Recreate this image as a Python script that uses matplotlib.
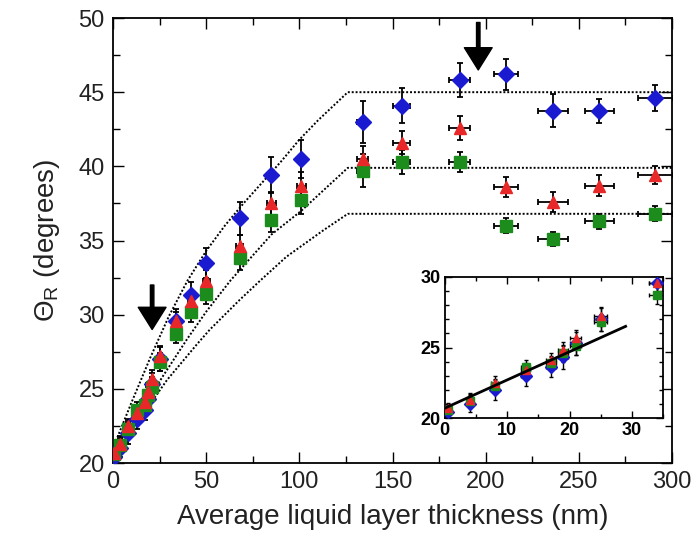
import matplotlib
matplotlib.use("Agg")
import matplotlib.pyplot as plt
from matplotlib.ticker import MultipleLocator

plt.rcParams["font.family"] = ["Liberation Sans", "DejaVu Sans"]
plt.rcParams["mathtext.fontset"] = "custom"
plt.rcParams["mathtext.rm"] = "Liberation Sans"
plt.rcParams["mathtext.it"] = "Liberation Sans"

# thickness (nm) and horizontal errors
thickness = [0.5, 4, 8, 13, 17, 19, 21, 25, 34, 42, 50, 68, 85, 101, 134, 155, 186, 211, 236, 261, 291]
thickness_err = [0.4, 0.5, 0.6, 0.7, 0.8, 0.8, 0.9, 1.0, 1.2, 1.5, 1.8, 2.0, 2.2, 2.5, 3.0, 4.5, 5.8, 6.5, 7.9, 7.9, 9.4]

# receding angle (degrees), three series
blue_vals = [20.4, 21.0, 22.0, 23.0, 23.6, 24.3, 25.3, 27.0, 29.6, 31.3, 33.5, 36.5, 39.4, 40.5,
             43.0, 44.1, 45.8, 46.2, 43.75, 43.75, 44.6]
blue_err = [0.5, 0.6, 0.7, 0.7, 0.7, 0.8, 0.8, 0.8, 0.8, 0.9, 1.0, 1.1, 1.2, 1.3,
            1.4, 1.2, 1.15, 1.07, 1.1, 0.8, 0.9]
red_vals = [20.7, 21.3, 22.5, 23.4, 24.1, 24.8, 25.65, 27.2, 29.55, 30.9, 32.3, 34.6, 37.5, 38.7,
            40.5, 41.6, 42.6, 38.6, 37.6, 38.7, 39.4]
red_err = [0.4, 0.5, 0.5, 0.5, 0.5, 0.6, 0.6, 0.7, 0.6, 0.7, 0.7, 0.8, 0.8, 0.9,
           0.9, 0.8, 0.8, 0.7, 0.7, 0.7, 0.6]
green_vals = [20.6, 21.2, 22.3, 23.6, 23.9, 24.6, 25.1, 26.8, 28.7, 30.2, 31.4, 33.8, 36.4, 37.7,
              39.7, 40.3, 40.3, 36.0, 35.1, 36.3, 36.8]
green_err = [0.4, 0.5, 0.5, 0.5, 0.5, 0.6, 0.6, 0.6, 0.6, 0.7, 0.7, 0.8, 0.8, 0.9,
             1.1, 0.8, 0.7, 0.5, 0.5, 0.5, 0.5]

# dotted envelope curves
upper_x = [0, 10, 20, 30, 40, 50, 60, 70, 80, 90, 100, 110, 126, 300]
upper_y = [21.0, 24.1, 27.1, 29.9, 32.3, 34.3, 36.0, 37.5, 38.9, 40.3, 41.8, 43.1, 45.0, 45.0]
middle_x = [0, 15, 27, 40, 50, 63, 85, 101, 126, 300]
middle_y = [20.8, 23.5, 25.9, 28.4, 30.2, 32.3, 35.4, 37.0, 39.9, 39.9]
lower_x = [0, 15, 29, 45, 52, 68, 79, 93, 113, 126, 300]
lower_y = [20.6, 23.1, 25.6, 28.0, 29.0, 31.0, 32.3, 33.9, 35.7, 36.8, 36.8]

# linear fit in the inset
fit_x = [0, 29]
fit_y = [20.7, 26.5]

# arrow positions (nm, degrees): tip and tail
arrow_left = (21, 29.0, 32.0)
arrow_right = (196, 46.5, 49.7)

BLUE = "#1a1ad0"
RED = "#e82828"
GREEN = "#1c8c1c"


def draw_series(ax, ms, cap, elw):
    for vals, err, color, marker in [
        (blue_vals, blue_err, BLUE, "D"),
        (green_vals, green_err, GREEN, "s"),
        (red_vals, red_err, RED, "^"),
    ]:
        ax.errorbar(thickness, vals, yerr=err, xerr=thickness_err, fmt=marker,
                    color=color, markersize=ms, markeredgecolor=color,
                    ecolor="black", elinewidth=elw, capsize=cap, capthick=elw, zorder=3)


def style_ticks(ax, major_len, minor_len):
    ax.tick_params(which="both", direction="in", top=True, right=True, width=1.0)
    ax.tick_params(which="major", length=major_len)
    ax.tick_params(which="minor", length=minor_len)


fig = plt.figure(figsize=(6.95, 5.46), dpi=100)
ax = fig.add_axes([0.1626, 0.152, 0.8044, 0.815])

for xs, ys in [(upper_x, upper_y), (middle_x, middle_y), (lower_x, lower_y)]:
    ax.plot(xs, ys, color="black", linestyle=(0, (1, 1)), linewidth=1.4, zorder=2)

draw_series(ax, 8, 2.5, 1.3)

for x, tip, tail in [arrow_left, arrow_right]:
    ax.annotate("", xy=(x, tip), xytext=(x, tail),
                arrowprops=dict(facecolor="black", edgecolor="black", width=2.5,
                                headwidth=20, headlength=16, shrink=0), zorder=5)

ax.set_xlim(0, 300)
ax.set_ylim(20, 50)
ax.xaxis.set_major_locator(MultipleLocator(50))
ax.xaxis.set_minor_locator(MultipleLocator(25))
ax.yaxis.set_major_locator(MultipleLocator(5))
ax.yaxis.set_minor_locator(MultipleLocator(2.5))
style_ticks(ax, 8, 5)
ax.tick_params(labelsize=17, pad=6, labelcolor="#222222")
ax.set_xlabel("Average liquid layer thickness (nm)", fontsize=20, labelpad=8, color="#222222")
ax.set_ylabel(r"$\Theta_\mathrm{R}$ (degrees)", fontsize=20, labelpad=12, color="#222222")
for s in ax.spines.values():
    s.set_linewidth(1.3)

# inset
axi = fig.add_axes([0.640, 0.2344, 0.314, 0.2583])
axi.plot(fit_x, fit_y, color="black", linewidth=2.0, zorder=4)
draw_series(axi, 6, 1.5, 1.0)
axi.set_xlim(0, 35)
axi.set_ylim(20, 30)
axi.xaxis.set_major_locator(MultipleLocator(10))
axi.xaxis.set_minor_locator(MultipleLocator(5))
axi.yaxis.set_major_locator(MultipleLocator(5))
axi.yaxis.set_minor_locator(MultipleLocator(1))
style_ticks(axi, 5, 3)
axi.tick_params(labelsize=13, pad=3)
for lab in axi.get_xticklabels() + axi.get_yticklabels():
    lab.set_fontweight("bold")
for s in axi.spines.values():
    s.set_linewidth(1.3)

fig.savefig("out.png", dpi=100)
